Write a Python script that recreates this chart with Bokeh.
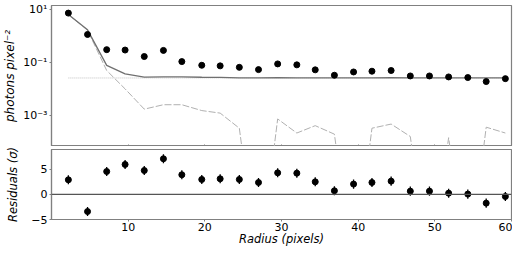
import numpy as np
from bokeh.plotting import figure
from bokeh.layouts import column
from bokeh.models import (Range1d, FixedTicker, CustomJSTickFormatter, Span)
from bokeh.embed import file_html
from bokeh.resources import INLINE

# ---- data ----
radius = [2.2, 4.7, 7.2, 9.6, 12.1, 14.6, 17.0, 19.6, 22.0, 24.5, 27.0, 29.5,
          32.0, 34.4, 36.9, 39.4, 41.8, 44.3, 46.8, 49.3, 51.8, 54.3, 56.7, 59.2]
data_flux = [7.6, 1.17, 0.31, 0.30, 0.17, 0.29, 0.109, 0.079, 0.075, 0.066,
             0.054, 0.089, 0.082, 0.053, 0.033, 0.044, 0.047, 0.050, 0.031,
             0.031, 0.0285, 0.027, 0.019, 0.0245]
total_model = [6.7, 1.76, 0.078, 0.037, 0.028, 0.0285, 0.0284, 0.0277, 0.0274,
               0.0264, 0.026, 0.0268, 0.0262, 0.0264, 0.0262, 0.026, 0.0263,
               0.0265, 0.0262, 0.026, 0.0261, 0.026, 0.0264, 0.0262]
source_model = [6.7, 1.7, 0.05, 0.01, 0.0017, 0.0025, 0.0025, 0.0015, 0.0012,
                0.00032, 0.0, 0.00072, 0.00021, 0.0004, 0.00019, 0.0, 0.00032,
                0.00046, 0.000155, 0.0, 0.00014, 0.0, 0.00035, 0.00021]
background = [0.026] * 24
residuals = [2.88, -3.42, 4.53, 5.93, 4.73, 7.06, 3.88, 2.95, 3.08, 2.95, 2.35,
             4.27, 4.2, 2.48, 0.70, 2.03, 2.35, 2.62, 0.63, 0.63, 0.23, 0.04,
             -1.75, -0.43]
res_err = [0.9] * 24
x_ticks = [10, 20, 30, 40, 50, 60]

FONT = "DejaVu Sans"
SPINE = "#808080"

def style(p):
    p.outline_line_color = SPINE
    p.outline_line_width = 1.2
    p.xgrid.visible = False
    p.ygrid.visible = False
    for ax in (p.xaxis[0], p.yaxis[0]):
        ax.axis_line_color = SPINE
        ax.axis_line_width = 1.2
        ax.major_tick_line_color = SPINE
        ax.major_tick_in = 0
        ax.major_tick_out = 2
        ax.minor_tick_line_color = None
        ax.major_label_text_font = FONT
        ax.major_label_text_font_size = "11px"
        ax.major_label_text_color = "black"
        ax.axis_label_text_font = FONT
        ax.axis_label_text_font_style = "italic"
        ax.axis_label_text_font_size = "12px"
        ax.axis_label_text_color = "black"
        ax.major_label_standoff = 2

# ---- top panel ----
p1 = figure(frame_width=460, frame_height=141, y_axis_type="log",
            x_range=Range1d(0, 60), y_range=Range1d(10**-4.19, 10**1.17),
            output_backend="svg", toolbar_location=None,
            min_border_left=44, min_border_right=4, min_border_top=3,
            min_border_bottom=0)
style(p1)
src_plot = [v if v > 0 else 1e-9 for v in source_model]
p1.line(radius, background, line_color="#c0c0c0", line_width=1.0, line_dash="1 1")
p1.line(radius, src_plot, line_color="#b0b0b0", line_width=1.0, line_dash="7 2")
p1.line(radius, total_model, line_color="#707070", line_width=1.3)
p1.scatter(radius, data_flux, size=6, color="black")
p1.yaxis.ticker = FixedTicker(ticks=[1e-3, 1e-1, 1e1], minor_ticks=[])
p1.yaxis.formatter = CustomJSTickFormatter(code="""
const e = Math.round(Math.log10(tick));
const sup = {'-':'\u207b','0':'\u2070','1':'\u00b9','2':'\u00b2','3':'\u00b3','4':'\u2074','5':'\u2075'};
return '10' + String(e).split('').map(c => sup[c]).join('');
""")
p1.yaxis.axis_label = "photons pixel\u207b\u00b2"
p1.yaxis.axis_label_standoff = 3
p1.xaxis.ticker = FixedTicker(ticks=x_ticks, minor_ticks=[])
p1.xaxis.formatter = CustomJSTickFormatter(code="return '';")
p1.xaxis.major_label_standoff = 0
p1.xaxis.major_tick_out = 0
p1.xaxis.major_tick_in = 2

# ---- bottom panel ----
p2 = figure(frame_width=460, frame_height=70,
            x_range=p1.x_range, y_range=Range1d(-5, 8.9),
            output_backend="svg", toolbar_location=None,
            min_border_left=44, min_border_right=4, min_border_top=3,
            min_border_bottom=0)
style(p2)
p2.add_layout(Span(location=0, dimension="width", line_color="#555555",
                   line_width=1.2))
lo = [r - e for r, e in zip(residuals, res_err)]
hi = [r + e for r, e in zip(residuals, res_err)]
p2.segment(radius, lo, radius, hi, line_color="black", line_width=1.3)
p2.scatter(radius, residuals, size=6, color="black")
p2.yaxis.ticker = FixedTicker(ticks=[-5, 0, 5], minor_ticks=[])
p2.yaxis.major_label_overrides = {-5: "\u22125", 0: "0", 5: "5"}
p2.yaxis.axis_label = "Residuals (\u03c3)"
p2.yaxis.axis_label_text_font_size = "11.5px"
p2.yaxis.axis_label_standoff = 8
p2.xaxis.ticker = FixedTicker(ticks=x_ticks, minor_ticks=[])
p2.xaxis.axis_label = "Radius (pixels)"
p2.xaxis.axis_label_text_font_size = "11.5px"
p2.xaxis.axis_label_standoff = -2
p2.xaxis.major_label_standoff = 1

layout = column(p1, p2, spacing=0, margin=(2, 0, -6, 0))
open("out.html", "w").write(file_html(layout, INLINE))
